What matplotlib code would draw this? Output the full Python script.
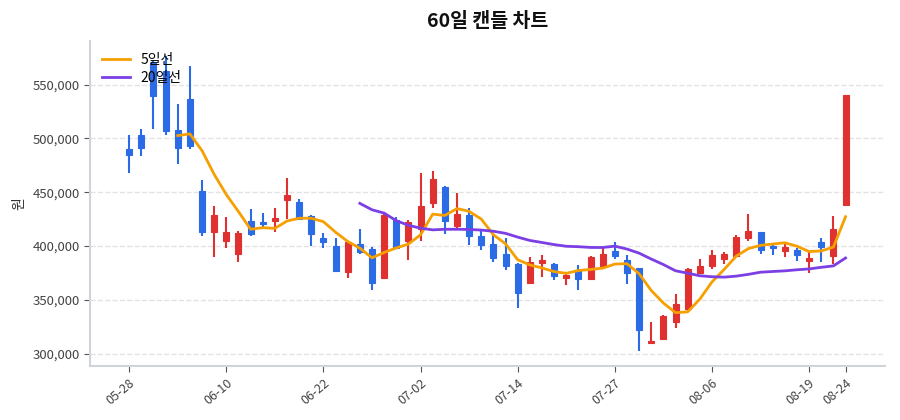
import numpy as np
import pandas as pd
import matplotlib
matplotlib.use('Agg')
import matplotlib.pyplot as plt
from matplotlib.ticker import FuncFormatter

plt.rcParams['font.family'] = ['Noto Sans CJK KR', 'DejaVu Sans']

dates = ['05-28', '05-29', '05-30', '06-02', '06-03', '06-04', '06-05', '06-09', '06-10',
         '06-11', '06-12', '06-13', '06-16', '06-17', '06-18', '06-19', '06-22',
         '06-23', '06-24', '06-25', '06-26', '06-29', '06-30', '07-01', '07-02',
         '07-03', '07-06', '07-07', '07-08', '07-09', '07-10', '07-13', '07-14',
         '07-15', '07-16', '07-17', '07-20', '07-21', '07-22', '07-23', '07-27',
         '07-28', '07-29', '07-30', '07-31', '08-03', '08-04', '08-05', '08-06',
         '08-07', '08-10', '08-11', '08-12', '08-13', '08-14', '08-17', '08-19',
         '08-20', '08-21', '08-24']

# 가격 (천원 단위)
opens = [490, 503, 570, 563, 508, 537, 451, 413, 405, 393,
         423, 422, 423, 443, 441, 428, 407, 400, 376, 402,
         397, 370, 424, 405, 416, 440, 455, 419, 429, 409,
         402, 393, 383, 366, 384, 383, 370, 378, 369, 381,
         395, 387, 380, 310, 314, 329, 341, 375, 381, 388,
         391, 407, 413, 400, 395, 396, 386, 404, 391, 438]
highs = [503, 509, 572, 577, 532, 567, 461, 437, 427, 414,
         434, 431, 435, 463, 444, 429, 412, 407, 405, 416,
         399, 430, 427, 424, 468, 470, 456, 449, 435, 414,
         411, 407, 384, 390, 392, 384, 375, 382, 391, 398,
         404, 392, 380, 329, 336, 355, 380, 388, 396, 394,
         410, 430, 413, 401, 402, 398, 394, 407, 428, 540]
lows = [468, 484, 509, 503, 476, 490, 409, 390, 398, 385,
        409, 418, 413, 425, 424, 400, 398, 376, 370, 393,
        359, 369, 397, 387, 405, 435, 411, 417, 401, 396,
        385, 378, 342, 365, 371, 368, 364, 359, 368, 380,
        388, 365, 302, 309, 313, 324, 340, 374, 379, 383,
        390, 405, 393, 392, 390, 386, 375, 385, 383, 438]
closes = [485, 491, 539, 507, 491, 493, 413, 429, 413, 412,
          411, 420, 426, 447, 425, 411, 404, 377, 404, 394,
          366, 429, 398, 422, 437, 462, 423, 430, 409, 401,
          389, 381, 356, 385, 387, 372, 373, 369, 390, 393,
          391, 375, 322, 312, 335, 346, 379, 381, 392, 393,
          408, 414, 396, 398, 399, 392, 389, 399, 416, 540]

df = pd.DataFrame({'open': opens, 'high': highs, 'low': lows, 'close': closes}) * 1000
df['ma5'] = df['close'].rolling(5).mean()
df['ma20'] = df['close'].rolling(20).mean()
x = np.arange(len(df))

up_color = '#e03131'
down_color = '#2b6be6'

fig, ax = plt.subplots(figsize=(9, 4.2), dpi=100)
fig.subplots_adjust(left=0.1, right=0.983, top=0.903, bottom=0.128)

colors = [up_color if c >= o else down_color for o, c in zip(df['open'], df['close'])]
ax.vlines(x, df['low'], df['high'], color=colors, linewidth=1.5, zorder=2)
body_bottom = np.minimum(df['open'], df['close'])
body_height = np.abs(df['close'] - df['open'])
body_height = np.maximum(body_height, 1500)
ax.bar(x, body_height, bottom=body_bottom, width=0.5, color=colors,
       edgecolor=colors, linewidth=0.8, zorder=3)

ax.plot(x, df['ma5'], color='#f59f00', linewidth=2, label='5일선', zorder=4)
ax.plot(x, df['ma20'], color='#7b3fe4', linewidth=2, label='20일선', zorder=4)

ax.set_title('60일 캔들 차트', fontsize=14, fontweight='bold', color='#111111', pad=10)
ax.set_ylabel('원', fontsize=10, color='#333333')

ticks = list(range(0, len(df), 8))
if ticks[-1] != len(df) - 1:
    ticks.append(len(df) - 1)
ax.set_xticks(ticks)
ax.set_xticklabels([dates[i] for i in ticks], rotation=40, ha='right',
                   rotation_mode='anchor', fontsize=9, color='#444444')
ax.yaxis.set_major_formatter(FuncFormatter(lambda v, p: f'{v:,.0f}'))
ax.tick_params(axis='y', labelsize=9.5, colors='#444444')
ax.tick_params(axis='both', color='#555555', length=4)

ax.grid(axis='y', linestyle='--', color='#e3e3e3', linewidth=1)
ax.set_axisbelow(True)
for side in ['top', 'right']:
    ax.spines[side].set_visible(False)
for side in ['left', 'bottom']:
    ax.spines[side].set_color('#d0d4da')
    ax.spines[side].set_linewidth(1.5)

ax.legend(loc='upper left', frameon=False, fontsize=10, handlelength=2.0,
          borderaxespad=0.45, labelspacing=0.3)

fig.savefig('out.png', dpi=100)
